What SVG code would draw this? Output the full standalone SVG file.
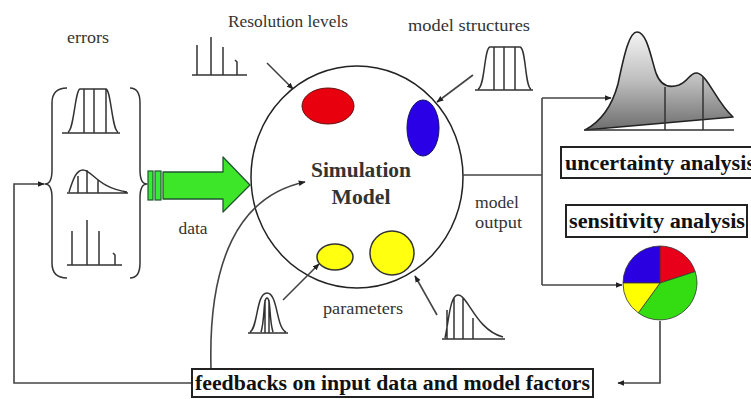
<svg xmlns="http://www.w3.org/2000/svg" width="751" height="399" viewBox="0 0 751 399">
<style>
text{font-family:"Liberation Serif","DejaVu Serif","Times New Roman",serif}
.lbl{font-size:17px;fill:#333}
.bold{font-size:20px;font-weight:bold;fill:#111}
.title{font-size:20px;font-weight:bold;fill:#333}
.ico{fill:none;stroke:#333;stroke-width:1.5;stroke-linejoin:round}
.con{fill:none;stroke:#444;stroke-width:1.6}
.box{fill:#fff;stroke:#222;stroke-width:2}
</style>
<defs>
<marker id="ah" viewBox="0 0 10 10" refX="9" refY="5" markerWidth="7" markerHeight="7" markerUnits="userSpaceOnUse" orient="auto">
<path d="M0,1 L10,5 L0,9 Z" fill="#222"/>
</marker>
<linearGradient id="ug" x1="0" y1="0" x2="0" y2="1">
<stop offset="0" stop-color="#f4f4f4"/>
<stop offset="0.5" stop-color="#bdbdbd"/>
<stop offset="1" stop-color="#6e6e6e"/>
</linearGradient>
</defs>
<rect width="751" height="399" fill="#fff"/>

<g id="model">
<ellipse cx="357" cy="177" rx="106" ry="111" fill="#fff" stroke="#222" stroke-width="1.5"/>
<ellipse cx="328" cy="106" rx="26" ry="18" fill="#e8000f" stroke="#611" stroke-width="1"/>
<ellipse cx="423" cy="128" rx="16" ry="28" fill="#2a00e6" stroke="#116" stroke-width="1"/>
<ellipse cx="335" cy="257" rx="18" ry="13" fill="#ffff10" stroke="#333" stroke-width="1.5"/>
<ellipse cx="392" cy="253" rx="22" ry="22" fill="#ffff10" stroke="#333" stroke-width="1.5"/>
<text class="title" x="361" y="177" text-anchor="middle" textLength="100" lengthAdjust="spacingAndGlyphs" font-family="Liberation Serif, serif">Simulation</text>
<text class="title" x="361" y="204" text-anchor="middle" textLength="59" lengthAdjust="spacingAndGlyphs" font-family="Liberation Serif, serif">Model</text>
</g>

<g id="connectors">
<path class="con" d="M192 383 L14 383 L14 184 L44 184" marker-end="url(#ah)"/>
<path class="con" d="M211 369 C208 262 238 196 305 182" marker-end="url(#ah)"/>
<path class="con" d="M463 175 L542 175"/>
<path class="con" d="M542 98 L542 285"/>
<path class="con" d="M542 98 L611 98" marker-end="url(#ah)"/>
<path class="con" d="M542 285 L622 285" marker-end="url(#ah)"/>
<path class="con" d="M660 321 L660 383 L618 383" marker-end="url(#ah)"/>
<path class="con" d="M267 63 L293 89" marker-end="url(#ah)"/>
<path class="con" d="M473 75 L437 102" marker-end="url(#ah)"/>
<path class="con" d="M283 300 L319 264" marker-end="url(#ah)"/>
<path class="con" d="M437 315 L415 276" marker-end="url(#ah)"/>
</g>

<g id="errors">
<text class="lbl" x="88" y="43" text-anchor="middle" textLength="42" lengthAdjust="spacingAndGlyphs">errors</text>
<path class="ico" d="M67 88 Q52 88 52 103 L52 170 Q52 184 45 184 Q52 184 52 198 L52 263 Q52 278 67 278"/>
<path class="ico" d="M130 88 Q140 88 140 103 L140 170 Q140 184 147 184 Q140 184 140 198 L140 263 Q140 278 130 278"/>
<path class="ico" d="M62 133 L120 133 M68 132 C74 130 75 90 80 89 L106 89 C111 90 112 130 118 132 M84 133 L84 89 M94 133 L94 89 M106 133 L106 89"/>
<path class="ico" d="M67 193 L128 193 M69 192 C73 180 76 170 83 170 C92 170 98 188 127 192 M78 193 L78 176 M87 193 L87 170 M98 193 L98 180"/>
<path class="ico" d="M67 265 L122 265 M72 265 L72 231 M87 265 L87 220 M99 265 L99 231 M115 265 L115 255 L113 253"/>
</g>

<g id="data">
<rect x="148" y="171" width="5" height="29" fill="#3e3" stroke="#253" stroke-width="1.2"/>
<rect x="155" y="171" width="6" height="29" fill="#3e3" stroke="#253" stroke-width="1.2"/>
<path d="M163 172 L223 172 L223 157 L250 185 L223 212 L223 199 L163 199 Z" fill="#3ee62a" stroke="#253" stroke-width="1.3" stroke-linejoin="round"/>
<text class="lbl" x="193" y="234" text-anchor="middle" textLength="29" lengthAdjust="spacingAndGlyphs">data</text>
</g>

<g id="resolution">
<text class="lbl" x="288" y="27" text-anchor="middle" textLength="120" lengthAdjust="spacingAndGlyphs">Resolution levels</text>
<path class="ico" d="M192 75 L247 75 M197 75 L197 45 M211 75 L211 37 M223 75 L223 47 M237 75 L237 62 L235 60"/>
</g>

<g id="structures">
<text class="lbl" x="469" y="31" text-anchor="middle" textLength="122" lengthAdjust="spacingAndGlyphs">model structures</text>
<path class="ico" d="M475 90 L533 90 M478 89 C485 87 484 48 490 47 L520 47 C526 48 525 87 531 89 M494 90 L494 47 M504 90 L504 47 M515 90 L515 47"/>
</g>

<g id="output">
<text class="lbl" x="475" y="208" textLength="44" lengthAdjust="spacingAndGlyphs">model</text>
<text class="lbl" x="475" y="228" textLength="47" lengthAdjust="spacingAndGlyphs">output</text>
</g>

<g id="parameters">
<text class="lbl" x="363" y="314" text-anchor="middle" textLength="80" lengthAdjust="spacingAndGlyphs">parameters</text>
<path class="ico" d="M248 333 L288 333 M250 332 C258 328 256 293 267 293 C278 293 276 328 286 332 M261 332 C265 320 263 298 267 298 C271 298 269 320 273 332 M265 333 L265 300 M269 333 L269 300"/>
<path class="ico" d="M442 339 L505 339 M445 338 C449 320 450 295 458 295 C468 295 476 330 503 337 M447 339 L447 310 M454 339 L454 297 M463 339 L463 298 M473 339 L473 318"/>
</g>

<g id="uncertainty">
<path d="M585 130 C600 122 612 106 618 84 C625 50 630 32 637 32 C647 32 651 58 656 73 C661 87 670 88 679 85 C689 81 690 72 697 73 C708 75 716 102 733 117 Z" fill="url(#ug)" stroke="#222" stroke-width="1.6" stroke-linejoin="round"/>
<path class="ico" d="M584 130 L734 130 M665 130 L665 87 M703 130 L703 77"/>
<rect class="box" x="561" y="147" width="195" height="31"/>
<text class="bold" x="565" y="170" textLength="190" lengthAdjust="spacingAndGlyphs">uncertainty analysis</text>
</g>

<g id="sensitivity">
<rect class="box" x="566" y="205" width="181" height="32"/>
<text class="bold" x="569" y="228" textLength="176" lengthAdjust="spacingAndGlyphs">sensitivity analysis</text>
<path d="M660 283 L623 283 A37 37 0 0 1 660 246 Z" fill="#2a00e0" stroke="#333" stroke-width="0.8"/>
<path d="M660 283 L660 246 A37 37 0 0 1 695.2 271.6 Z" fill="#e8001a" stroke="#333" stroke-width="0.8"/>
<path d="M660 283 L695.2 271.6 A37 37 0 0 1 638.3 312.9 Z" fill="#33dd11" stroke="#333" stroke-width="0.8"/>
<path d="M660 283 L638.3 312.9 A37 37 0 0 1 623 283 Z" fill="#ffff00" stroke="#333" stroke-width="0.8"/>
</g>

<g id="feedbacks">
<rect class="box" x="192" y="369" width="401" height="28"/>
<text class="bold" x="195" y="390" textLength="395" lengthAdjust="spacingAndGlyphs">feedbacks on input data and model factors</text>
</g>
</svg>
